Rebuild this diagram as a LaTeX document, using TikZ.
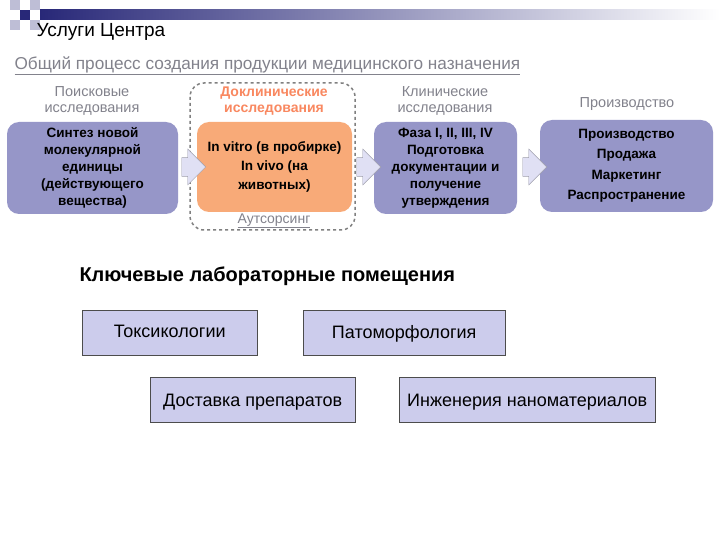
\documentclass[tikz,border=0pt]{standalone}
\usepackage{fontspec}
\setmainfont{Liberation Sans}
\usetikzlibrary{shapes.arrows}
\definecolor{navy}{RGB}{40,40,120}
\definecolor{boxv}{RGB}{150,150,200}
\definecolor{lab}{RGB}{204,204,236}
\definecolor{orng}{RGB}{248,170,120}
\definecolor{gtx}{RGB}{130,130,140}
\tikzset{
 stage/.style={rounded corners=12pt,fill=boxv,draw=none,minimum width=#1,minimum height=92pt,align=center,font=\bfseries\fontsize{13.5}{17}\selectfont,inner sep=1pt},
 head/.style={align=center,text=gtx,font=\fontsize{14.5}{16}\selectfont},
 labbox/.style={draw=black!70,fill=lab,minimum height=45pt,anchor=north west,inner sep=2pt},
 labtxt/.style={anchor=north,font=\fontsize{18}{20}\selectfont},
 chev/.style={single arrow,fill=lab!60,draw=lab!40!gray,minimum height=24pt,minimum width=36pt,single arrow head extend=2pt,inner sep=2pt}
}
\begin{document}
\begin{tikzpicture}[x=1pt,y=-1pt]
\useasboundingbox[fill=white] (0,0) rectangle (720,540);
\shade[left color=navy,right color=white] (40,10) rectangle (720,20);
\fill[navy] (20,10) rectangle (30,20);
\fill[navy!30] (10,0) rectangle (20,10);
\fill[navy!30] (30,0) rectangle (40,10);
\fill[navy!30] (10,20) rectangle (20,30);
\fill[navy!30] (30,20) rectangle (40,30);
\node[anchor=west,font=\fontsize{19}{22}\selectfont] (t) at (33,32) {Услуги Центра};
\node[anchor=west,text=gtx,font=\fontsize{17.2}{19}\selectfont] (s) at (11,66) {\underline{Общий процесс создания продукции медицинского назначения}};
\draw[dashed,gray,line width=1.5pt,rounded corners=14pt] (190,83) rectangle (355,230);
\node[stage=171pt] (b1) at (92.5,168) {Синтез новой\\молекулярной\\единицы\\(действующего\\вещества)};
\node[stage=155pt,fill=orng,minimum height=90pt,font=\bfseries\fontsize{13.5}{19}\selectfont] (b2) at (274.5,167) {In vitro (в пробирке)\\In vivo (на\\животных)};
\node[stage=143pt] (b3) at (445.5,168) {Фаза I, II, III, IV\\Подготовка\\документации и\\получение\\утверждения};
\node[stage=173pt,font=\bfseries\fontsize{13.5}{20.5}\selectfont] (b4) at (626.5,166) {Производство\\Продажа\\Маркетинг\\Распространение};
\node[head] (h1) at (92,101) {Поисковые\\исследования};
\node[head,text=orng!80!red,font=\bfseries\fontsize{14}{16}\selectfont] (h2) at (274,101) {Доклинические\\исследования};
\node[head] (h3) at (445,101) {Клинические\\исследования};
\node[head] (h4) at (627,104) {Производство};
\node[text=gtx,font=\fontsize{14}{15}\selectfont] (out) at (274,221) {\underline{Аутсорсинг}};
\node[chev] (a1) at (189,167) {};
\node[chev] (a2) at (364,167) {};
\node[chev] (a3) at (530,167) {};
\node[anchor=west,font=\bfseries\fontsize{20}{22}\selectfont] (k) at (76,276) {Ключевые лабораторные помещения};
\node[labbox,minimum width=175pt] (l1) at (82,310) {};
\node[labtxt] (l1t) at (l1.north) [yshift=-12pt] {Токсикологии};
\node[labbox,minimum width=202pt] (l2) at (303,310) {};
\node[labtxt] (l2t) at (l2.north) [yshift=-12pt] {Патоморфология};
\node[labbox,minimum width=205pt] (l3) at (150,377) {};
\node[labtxt] (l3t) at (l3.north) [yshift=-14pt] {Доставка препаратов};
\node[labbox,minimum width=256pt] (l4) at (399,377) {};
\node[labtxt] (l4t) at (l4.north) [yshift=-14pt] {Инженерия наноматериалов};
\end{tikzpicture}
\end{document}
